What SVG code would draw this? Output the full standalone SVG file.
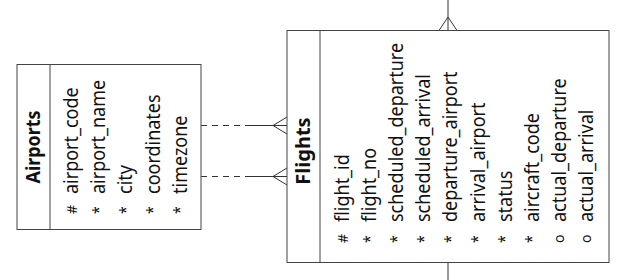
<svg xmlns="http://www.w3.org/2000/svg" width="626" height="280" viewBox="0 0 626 280">
<style>
.box{fill:#fff;stroke:#444;stroke-width:1}
.div{stroke:#444;stroke-width:1}
.title{font-family:"Noto Sans","Open Sans",sans-serif;font-size:20px;font-weight:bold;fill:#111;text-anchor:middle}
.attr{font-family:"Noto Sans","Open Sans",sans-serif;font-size:18px;fill:#111}
.mk{font-family:"Noto Sans","Open Sans",sans-serif;font-size:14px;fill:#111}
.ln{fill:none;stroke:#333;stroke-width:1}
.dash{fill:none;stroke:#333;stroke-width:1;stroke-dasharray:6 5}
</style>
<rect width="626" height="280" fill="#fff"/>
<g id="connectors">
  <path class="dash" d="M201 125.5H245"/>
  <path class="ln" d="M245 125.5H287M273 125.5L287 117M273 125.5L287 134"/>
  <path class="dash" d="M201 176.5H245"/>
  <path class="ln" d="M245 176.5H287M273 176.5L287 168M273 176.5L287 185"/>
  <path class="ln" d="M448 0V30.5M448 17L439 30.5M448 17L457 30.5"/>
  <path class="ln" d="M448 262.5V280"/>
</g>
<g id="airports">
  <rect class="box" x="17" y="64.5" width="184" height="165"/>
  <line class="div" x1="50" y1="64.5" x2="50" y2="229.5"/>
  <text class="title" transform="translate(40,147) rotate(-90)" textLength="73" lengthAdjust="spacingAndGlyphs">Airports</text>
  <g class="mk">
    <text transform="translate(77,214) rotate(-90)">#</text>
    <text transform="translate(104,214) rotate(-90) scale(1,1.15)">*</text>
    <text transform="translate(131,214) rotate(-90) scale(1,1.15)">*</text>
    <text transform="translate(158,214) rotate(-90) scale(1,1.15)">*</text>
    <text transform="translate(185,214) rotate(-90) scale(1,1.15)">*</text>
  </g>
  <g class="attr">
    <text transform="translate(78,194) rotate(-90) scale(1,1.15)">airport_code</text>
    <text transform="translate(105.2,194) rotate(-90) scale(1,1.15)">airport_name</text>
    <text transform="translate(132.4,194) rotate(-90) scale(1,1.15)">city</text>
    <text transform="translate(159.6,194) rotate(-90) scale(1,1.15)">coordinates</text>
    <text transform="translate(186.8,194) rotate(-90) scale(1,1.15)">timezone</text>
  </g>
</g>
<g id="flights">
  <rect class="box" x="287" y="30.5" width="322" height="232"/>
  <line class="div" x1="320" y1="30.5" x2="320" y2="262.5"/>
  <text class="title" transform="translate(310,151) rotate(-90)">Flights</text>
  <g class="mk">
    <text transform="translate(348,243) rotate(-90)">#</text>
    <text transform="translate(375,243) rotate(-90) scale(1,1.15)">*</text>
    <text transform="translate(402,243) rotate(-90) scale(1,1.15)">*</text>
    <text transform="translate(429,243) rotate(-90) scale(1,1.15)">*</text>
    <text transform="translate(456,243) rotate(-90) scale(1,1.15)">*</text>
    <text transform="translate(483,243) rotate(-90) scale(1,1.15)">*</text>
    <text transform="translate(510,243) rotate(-90) scale(1,1.15)">*</text>
    <text transform="translate(537,243) rotate(-90) scale(1,1.15)">*</text>
    <text transform="translate(564,243) rotate(-90)">o</text>
    <text transform="translate(591,243) rotate(-90)">o</text>
  </g>
  <g class="attr">
    <text transform="translate(349,222) rotate(-90) scale(1,1.15)">flight_id</text>
    <text transform="translate(376.1,222) rotate(-90) scale(1,1.15)">flight_no</text>
    <text transform="translate(403.2,222) rotate(-90) scale(1,1.15)">scheduled_departure</text>
    <text transform="translate(430.3,222) rotate(-90) scale(1,1.15)">scheduled_arrival</text>
    <text transform="translate(457.4,222) rotate(-90) scale(1,1.15)">departure_airport</text>
    <text transform="translate(484.5,222) rotate(-90) scale(1,1.15)">arrival_airport</text>
    <text transform="translate(511.6,222) rotate(-90) scale(1,1.15)">status</text>
    <text transform="translate(538.7,222) rotate(-90) scale(1,1.15)">aircraft_code</text>
    <text transform="translate(565.8,222) rotate(-90) scale(1,1.15)">actual_departure</text>
    <text transform="translate(592.9,222) rotate(-90) scale(1,1.15)">actual_arrival</text>
  </g>
</g>
</svg>
